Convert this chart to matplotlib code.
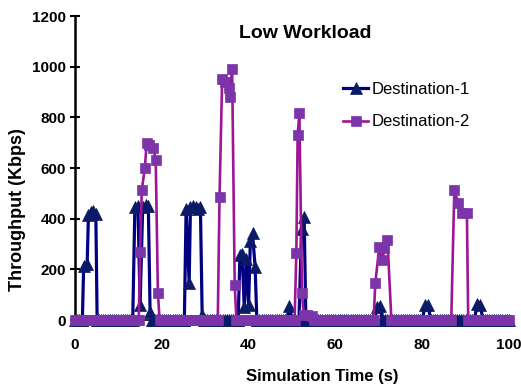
import numpy as np
import matplotlib
matplotlib.use("Agg")
import matplotlib.pyplot as plt

plt.rcParams['font.family'] = ['Liberation Sans', 'DejaVu Sans']

# Burst segments (time in s, throughput in Kbps); the flow is idle (0) elsewhere
dest1_bursts = [
    ([1.7, 2.0, 2.8, 3.1, 3.6, 4.2, 4.8, 5.1],
     [0, 215, 220, 415, 425, 430, 420, 0]),
    ([13.3, 13.8, 14.5, 15.0, 15.6, 16.3, 16.9, 17.3, 17.7],
     [0, 445, 450, 60, 445, 455, 450, 30, 0]),
    ([25.2, 25.6, 26.3, 26.6, 27.2, 27.8, 28.4, 28.9, 29.3, 29.7],
     [0, 440, 146, 445, 450, 445, 440, 445, 20, 0]),
    ([37.6, 38.0, 38.5, 39.0, 39.5, 40.0, 40.4, 40.9, 41.5, 41.9],
     [0, 255, 262, 50, 240, 60, 310, 342, 210, 0]),
    ([48.8, 49.4, 50.0, 51.6, 52.2, 52.8, 53.2],
     [0, 55, 0, 0, 360, 405, 0]),
    ([69.0, 69.7, 70.3, 70.8],
     [0, 50, 55, 0]),
    ([80.0, 80.7, 81.3, 82.0],
     [0, 58, 60, 0]),
    ([92.0, 92.7, 93.4, 94.0],
     [0, 62, 58, 0]),
]

dest2_bursts = [
    ([14.7, 15.0, 15.4, 16.1, 16.5, 17.0, 18.0, 18.6, 19.1, 19.5],
     [0, 270, 515, 600, 697, 690, 680, 632, 107, 0]),
    ([32.9, 33.3, 33.9, 34.6, 35.4, 35.7, 36.2, 36.8, 37.2],
     [0, 486, 950, 940, 915, 880, 990, 138, 0]),
    ([50.6, 51.0, 51.3, 51.7, 52.3, 52.7, 53.5, 54.5, 55.0],
     [0, 264, 730, 817, 107, 20, 20, 15, 0]),
    ([68.8, 69.2, 70.1, 70.8, 71.3, 72.0, 72.9],
     [0, 146, 288, 237, 284, 316, 0]),
    ([86.7, 87.4, 88.3, 89.2, 90.3, 90.6],
     [0, 513, 462, 422, 422, 0]),
]

idle_sample_times = np.arange(0, 100.25, 0.5)

y_ticks = [0, 200, 400, 600, 800, 1000, 1200]
x_ticks = [0, 20, 40, 60, 80, 100]


def assemble(bursts):
    """Merge burst samples with idle (zero) samples outside the bursts."""
    t_all, v_all = [], []
    for t, v in bursts:
        t_all.extend(t)
        v_all.extend(v)
    for t0 in idle_sample_times:
        if not any(t[0] <= t0 <= t[-1] for t, _ in bursts):
            t_all.append(t0)
            v_all.append(0)
    order = np.argsort(t_all)
    return np.asarray(t_all)[order], np.asarray(v_all)[order]


t1, v1 = assemble(dest1_bursts)
t2, v2 = assemble(dest2_bursts)

fig = plt.figure(figsize=(5.21, 3.89), dpi=100)
ax = fig.add_axes([75 / 521, 1 - 320 / 389, (509 - 75) / 521, (320 - 16) / 389])

ax.plot(t1, v1, color='#000080', lw=2.3, marker='^', ms=8.5,
        mfc='#0b1a66', mec='#0b1a66', mew=0.5, label='Destination-1',
        zorder=3, clip_on=False)
ax.plot(t2, v2, color='#9c1696', lw=1.9, marker='s', ms=7.0,
        mfc='#7b35a8', mec='#7b35a8', mew=0.5, label='Destination-2',
        zorder=4, clip_on=False)

ax.set_xlim(0, 100)
ax.set_ylim(0, 1200)
ax.set_xticks(x_ticks)
ax.set_yticks(y_ticks)
for s in ('top', 'right'):
    ax.spines[s].set_visible(False)
ax.spines['left'].set_linewidth(1.8)
ax.spines['bottom'].set_linewidth(1.2)
ax.tick_params(axis='y', direction='inout', length=7, width=1.5, pad=3,
               labelsize=11)
ax.tick_params(axis='x', direction='out', length=4, width=1.2, pad=9,
               labelsize=11)
for lab in ax.get_xticklabels() + ax.get_yticklabels():
    lab.set_fontweight('bold')

fig.text(305 / 521, 1 - 33 / 389, 'Low Workload', ha='center', va='center',
         fontsize=14, fontweight='bold')
fig.text(322 / 521, 1 - 376 / 389, 'Simulation Time (s)', ha='center',
         va='center', fontsize=12, fontweight='bold')
fig.text(18 / 521, 1 - 210 / 389, 'Throughput (Kbps)', ha='center',
         va='center', rotation=90, fontsize=13, fontweight='bold')

fig.legend(loc='upper left', bbox_to_anchor=(343 / 521, 1 - 82 / 389),
           frameon=False, fontsize=12, handlelength=1.5, handletextpad=0.2,
           labelspacing=1.05, borderaxespad=0, borderpad=0)

fig.savefig('out.png', dpi=100)
